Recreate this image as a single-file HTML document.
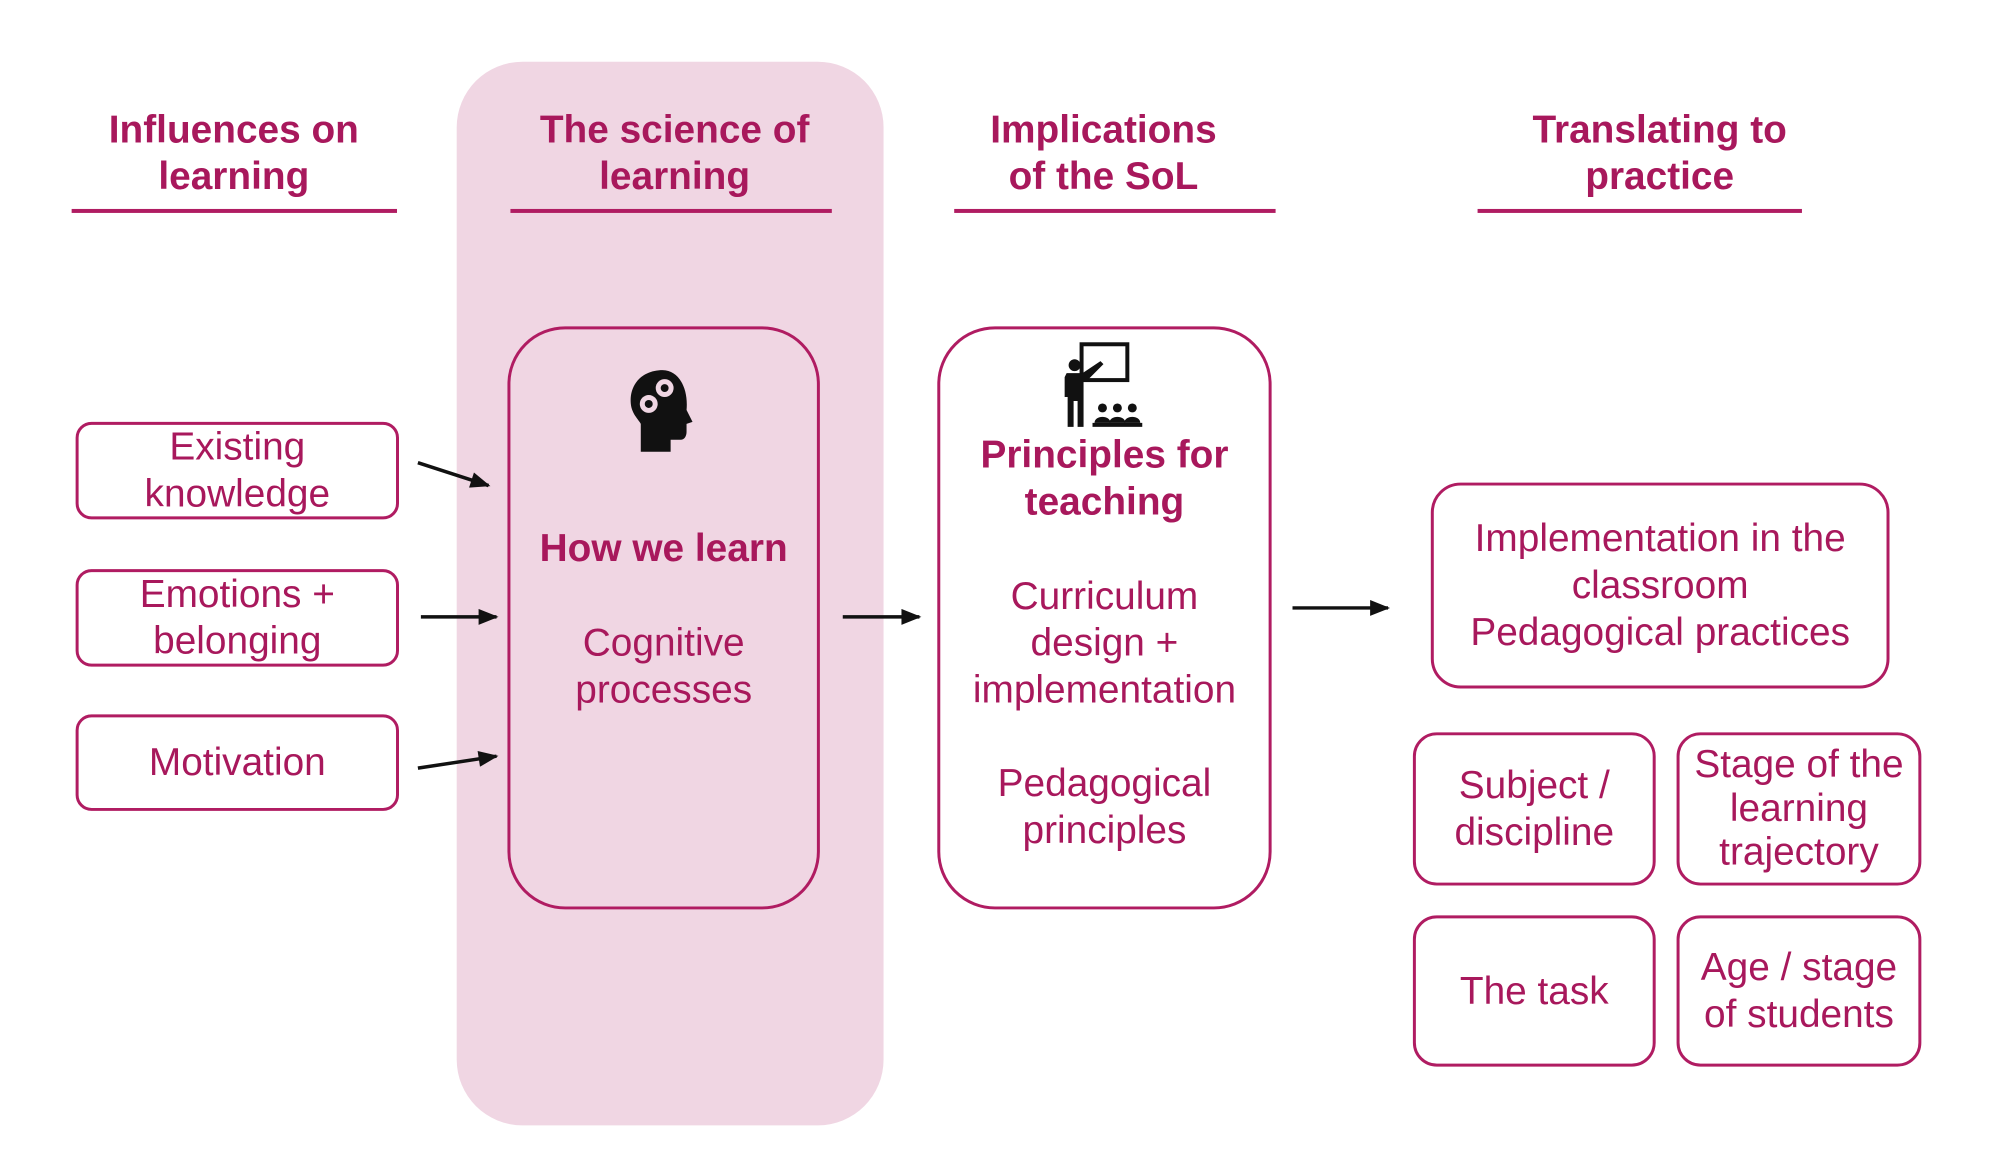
<!DOCTYPE html>
<html><head><meta charset="utf-8"><style>
body{margin:0;width:2000px;height:1161px;background:#fff;position:relative;overflow:hidden;font-family:"Liberation Sans",sans-serif;color:#a8185c}
#w{position:absolute;left:0;top:0;width:2000px;height:1161px;transform:scale(0.995);transform-origin:0 0}
.a{position:absolute}
.h{position:absolute;text-align:center;font-weight:bold;font-size:39px;line-height:47px;width:420px}
.ln{position:absolute;height:4px;background:#b01c62}
.b{position:absolute;box-sizing:border-box;border:3.5px solid #b01c62;border-radius:16px;display:flex;align-items:center;justify-content:center;text-align:center;font-size:39px;line-height:47px;background:#fff;white-space:nowrap}
.t{position:absolute;text-align:center;font-size:39px;line-height:47px;width:400px}
</style></head><body><div id="w">
<div class="a" style="left:459px;top:62px;width:429px;height:1069px;background:#f0d6e3;border-radius:66px"></div>

<div class="h" style="left:25px;top:107px">Influences on<br>learning</div>
<div class="ln" style="left:72px;top:210px;width:327px"></div>
<div class="h" style="left:468px;top:107px">The science of<br>learning</div>
<div class="ln" style="left:513px;top:210px;width:323px"></div>
<div class="h" style="left:899px;top:107px">Implications<br>of the SoL</div>
<div class="ln" style="left:959px;top:210px;width:323px"></div>
<div class="h" style="left:1458px;top:107px">Translating to<br>practice</div>
<div class="ln" style="left:1485px;top:210px;width:326px"></div>

<div class="b" style="left:76px;top:424px;width:325px;height:98px">Existing<br>knowledge</div>
<div class="b" style="left:76px;top:572px;width:325px;height:98px">Emotions +<br>belonging</div>
<div class="b" style="left:76px;top:718px;width:325px;height:97px">Motivation</div>

<div class="b" style="left:510px;top:328px;width:314px;height:586px;border-radius:58px;background:transparent"></div>
<div class="t" style="left:467px;top:528px;font-weight:bold">How we learn</div>
<div class="t" style="left:467px;top:623px">Cognitive<br>processes</div>

<div class="b" style="left:942px;top:328px;width:336px;height:586px;border-radius:58px"></div>
<div class="t" style="left:910px;top:434px;font-weight:bold">Principles for<br>teaching</div>
<div class="t" style="left:910px;top:576px">Curriculum<br>design +<br>implementation</div>
<div class="t" style="left:910px;top:764px">Pedagogical<br>principles</div>

<div class="b" style="left:1438px;top:485px;width:461px;height:207px;border-radius:30px">Implementation in the<br>classroom<br>Pedagogical practices</div>
<div class="b" style="left:1420px;top:736px;width:244px;height:154px;border-radius:24px">Subject /<br>discipline</div>
<div class="b" style="left:1685px;top:736px;width:246px;height:154px;border-radius:24px;line-height:44px">Stage of the<br>learning<br>trajectory</div>
<div class="b" style="left:1420px;top:920px;width:244px;height:152px;border-radius:24px">The task</div>
<div class="b" style="left:1685px;top:920px;width:246px;height:152px;border-radius:24px">Age / stage<br>of students</div>

<svg class="a" style="left:0;top:0" width="2000" height="1161">
<defs>
<marker id="M" viewBox="0 0 10 8" refX="9" refY="4" markerWidth="24" markerHeight="16" orient="auto" markerUnits="userSpaceOnUse"><path d="M0,0L10,4L0,8z" fill="#111"/></marker></defs>
<g stroke="#111" stroke-width="3.5" fill="none">
<line x1="420" y1="465" x2="491" y2="488" marker-end="url(#M)"/>
<line x1="423" y1="620" x2="499" y2="620" marker-end="url(#M)"/>
<line x1="420" y1="772" x2="499" y2="760" marker-end="url(#M)"/>
<line x1="847" y1="620" x2="924" y2="620" marker-end="url(#M)"/>
<line x1="1299" y1="611" x2="1395" y2="611" marker-end="url(#M)"/>
</g>
<g transform="translate(630,370)" fill="#111">
<path d="M36,2C15,2 2,17 4,36C5,46 12,52 14,56L14,84L44,84L44,72L54,72C58,72 60,68 60,64L60,56L66,54L60,42C62,20 52,2 36,2Z"/>
<circle cx="38" cy="20" r="9" fill="#f0d6e3"/><circle cx="38" cy="20" r="4"/>
<circle cx="22" cy="36" r="9" fill="#f0d6e3"/><circle cx="22" cy="36" r="4"/>
</g>
<g transform="translate(1062,343)" fill="#111" stroke="none">
<rect x="25" y="3" width="46" height="36" fill="none" stroke="#111" stroke-width="4"/>
<circle cx="18" cy="24" r="6"/>
<path d="M10,32L26,32L44,20L47,23L30,40L27,40L27,86L21,86L21,60L17,60L17,86L11,86L11,56L8,56L8,36Z"/>
<circle cx="46" cy="67" r="4.5"/><path d="M38,82C38,74 54,74 54,82Z"/>
<circle cx="61" cy="67" r="4.5"/><path d="M53,82C53,74 69,74 69,82Z"/>
<circle cx="76" cy="67" r="4.5"/><path d="M68,82C68,74 84,74 84,82Z"/>
<rect x="36" y="82" width="50" height="4"/>
</g>
</svg>
</div></body></html>
